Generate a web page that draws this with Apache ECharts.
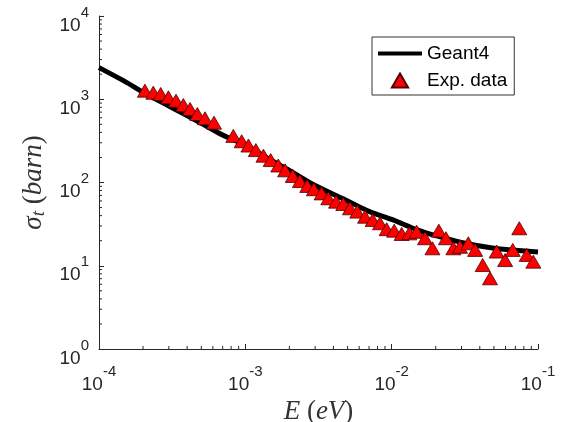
<!DOCTYPE html>
<html><head><meta charset="utf-8">
<script src="https://cdn.jsdelivr.net/npm/echarts@6/dist/echarts.min.js"></script>
<style>html,body{margin:0;padding:0;background:#fff}#c{width:564px;height:422px}</style>
</head><body><div id="c"></div>
<script>
// Experimental data (E in eV, sigma_t in barn)
const expEnergy = [2.06e-4,2.35e-4,2.64e-4,2.98e-4,3.36e-4,3.77e-4,4.19e-4,4.70e-4,5.30e-4,6.11e-4,
  8.28e-4,9.44e-4,1.05e-3,1.18e-3,1.33e-3,1.49e-3,1.68e-3,1.87e-3,2.11e-3,2.36e-3,2.65e-3,2.94e-3,3.32e-3,3.69e-3,4.17e-3,4.67e-3,5.19e-3,5.82e-3,6.58e-3,7.42e-3,8.32e-3,9.24e-3,
  1.04e-2,1.17e-2,1.32e-2,1.48e-2,1.69e-2,1.90e-2,2.10e-2,2.35e-2,2.64e-2,2.93e-2,3.34e-2,3.72e-2,4.19e-2,4.70e-2,5.22e-2,5.96e-2,6.72e-2,7.45e-2,8.37e-2,9.29e-2];
const expSigma = [1268,1199,1156,1054,961,853,764,665,590,523,
  363,313,278,245,210,186,160,140,120,104,91,83,74,64.6,58.9,55.2,49,44.7,38.8,35.5,32.4,27.5,
  26.4,24.1,24.5,25.6,21.4,16.2,26.4,21.4,16.2,16.9,18.6,15.5,10.2,7.07,14.8,11.7,15.5,28.2,13.5,11.2];
// Geant4 curve
const geantEnergy = [1e-4,1.5e-4,2e-4,3e-4,5e-4,7e-4,1e-3,1.5e-3,2e-3,3e-3,5e-3,7e-3,1e-2,1.5e-2,2e-2,3e-2,5e-2,7e-2,1e-1];
const geantSigma  = [2400,1640,1215,830,515,372,282,185,140,92,60,45,36,27,23,19,16.2,15.4,14.6];
const seriesNames = ['Geant4','Exp. data'];
const xTickExponents = ['-4','-3','-2','-1'];
const yTickExponents = ['0','1','2','3','4'];
const xDecades = [1e-4,1e-3,1e-2];
const yDecades = [1,10,100,1000];
const minorMultipliers = [2,3,4,5,6,7,8,9];

const textColor = '#262626';
const sans = 'Liberation Sans, Arial, sans-serif';
const serif = 'Liberation Serif, Times New Roman, serif';

function pairs(xs, ys){ return xs.map((x,i)=>[x, ys[i]]); }
function minorValues(decades){ const out=[]; decades.forEach(d=>minorMultipliers.forEach(m=>out.push(d*m))); return out; }

const tickRich = {
  b: {fontSize:19, lineHeight:30, verticalAlign:'bottom', fontFamily:sans, color:textColor},
  s: {fontSize:15, lineHeight:14, verticalAlign:'top', fontFamily:sans, color:textColor}
};
const nameRich = {
  i: {fontSize:27, lineHeight:30, fontStyle:'italic', fontFamily:serif, color:'#333'},
  n: {fontSize:27, lineHeight:30, fontFamily:serif, color:'#333'},
  sub: {fontSize:19, lineHeight:18, verticalAlign:'bottom', fontStyle:'italic', fontFamily:serif, color:'#333'}
};

const chart = echarts.init(document.getElementById('c'), null, {renderer:'canvas'});
chart.setOption({
  animation:false,
  backgroundColor:'#fff',
  grid:{left:99, right:26, top:16, bottom:73, outerBoundsMode:'none'},
  legend:{
    orient:'vertical', left:372, top:37,
    padding:[7,7,5,6], itemGap:8, itemWidth:44, itemHeight:14,
    borderColor:'#333', borderWidth:1, backgroundColor:'#fff',
    textStyle:{fontSize:19, lineHeight:19, fontFamily:sans, color:'#000'},
    data:[
      {name:seriesNames[0], icon:'path://M0,0 L0.01,0 L0.01,0.01 Z M0,5 L44,5 L44,9 L0,9 Z M0,14 L0.01,14 L0.01,13.99 Z', itemStyle:{color:'#000', borderWidth:0}},
      {name:seriesNames[1], icon:'path://M7.5,0 L15,13 L0,13 Z'}
    ]
  },
  xAxis:{
    type:'log', logBase:10, min:1e-4, max:1e-1, splitNumber:3,
    name:'{i|E}{n| (}{i|eV}{n|)}', nameLocation:'middle', nameGap:40,
    nameTextStyle:{rich:nameRich},
    axisLine:{show:true, onZero:false, lineStyle:{color:textColor, width:1}},
    axisTick:{show:true, inside:true, length:5, lineStyle:{color:textColor}},
    splitLine:{show:false},
    axisLabel:{margin:15, formatter:(v,i)=>'{b|10}{s|'+xTickExponents[i]+'}', rich:tickRich}
  },
  yAxis:{
    type:'log', logBase:10, min:1, max:1e4, splitNumber:4,
    name:'{i|σ}{sub|t}{n| (}{i|barn}{n|)}', nameLocation:'middle', nameGap:49,
    nameTextStyle:{rich:nameRich},
    axisLine:{show:true, onZero:false, lineStyle:{color:textColor, width:1}},
    axisTick:{show:true, inside:true, length:5, lineStyle:{color:textColor}},
    splitLine:{show:false},
    axisLabel:{margin:10, padding:[8,0,0,0], formatter:(v,i)=>'{b|10}{s|'+yTickExponents[i]+'}', rich:tickRich}
  },
  series:[
    {
      name:seriesNames[0], type:'line', data:pairs(geantEnergy, geantSigma),
      symbol:'none', smooth:0.3, z:2,
      lineStyle:{color:'#000', width:5}, itemStyle:{color:'#000'}
    },
    {
      name:seriesNames[1], type:'scatter', data:pairs(expEnergy, expSigma),
      symbol:'triangle', symbolSize:[15,13], symbolKeepAspect:true, z:3,
      itemStyle:{color:'#ff0000', borderColor:'#4a0000', borderWidth:0.8, opacity:1}
    },
    {
      name:'xMinor', type:'custom', silent:true, clip:false, z:1,
      data:minorValues(xDecades).map(v=>[v,1]),
      renderItem:(params, api)=>{
        const p = api.coord([api.value(0), api.value(1)]);
        return {type:'line', shape:{x1:p[0], y1:p[1], x2:p[0], y2:p[1]-3}, style:{stroke:textColor, lineWidth:1}};
      }
    },
    {
      name:'yMinor', type:'custom', silent:true, clip:false, z:1,
      data:minorValues(yDecades).map(v=>[1e-4,v]),
      renderItem:(params, api)=>{
        const p = api.coord([api.value(0), api.value(1)]);
        return {type:'line', shape:{x1:p[0], y1:p[1], x2:p[0]+3, y2:p[1]}, style:{stroke:textColor, lineWidth:1}};
      }
    }
  ]
});
</script></body></html>
